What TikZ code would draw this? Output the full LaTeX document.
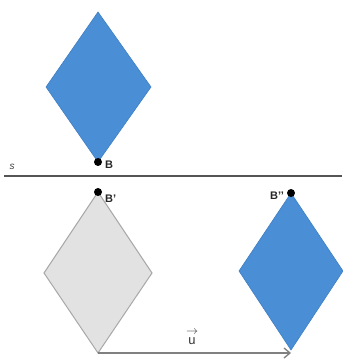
\documentclass[tikz,border=0pt]{standalone}
\usepackage{fontspec}
\setmainfont{Liberation Sans}
\usetikzlibrary{arrows.meta}
\definecolor{rhblue}{HTML}{4A8ED6}
\definecolor{rhblueedge}{HTML}{3F7FC4}
\definecolor{rhgray}{HTML}{E2E2E2}
\definecolor{rhgrayedge}{HTML}{A8A8A8}
\definecolor{axisgray}{HTML}{555555}
\begin{document}
\begin{tikzpicture}[x=1pt,y=-1pt,
  bluerh/.style={fill=rhblue,draw=rhblueedge,line width=0.6pt,line join=miter},
  grayrh/.style={fill=rhgray,draw=rhgrayedge,line width=1pt,line join=miter},
  ptdot/.style={circle,fill=black,inner sep=0pt,minimum size=8pt},
  ptlabel/.style={font=\fontsize{11}{12}\selectfont\bfseries,text=black!85,inner sep=1pt},
  vecline/.style={draw=black!50,line width=1.8pt,-{Straight Barb[length=6pt,width=10pt,line width=1.3pt]}}
]
\useasboundingbox (0,0) rectangle (342,363);
% top blue rhombus, bottom vertex B
\coordinate (Bt) at (98,12);
\coordinate (B) at (98,162);
\path[bluerh] (Bt) -- (46,87) -- (B) -- (151,87) -- cycle;
% line s
\coordinate (sL) at (4,176);
\coordinate (sR) at (342,176);
\draw[draw=axisgray,line width=1.6pt] (sL) -- (sR);
\node[font=\itshape\fontsize{10}{11}\selectfont,text=black!75] (slab) at (12,167) {s};
% gray rhombus (reflection), top vertex B'
\coordinate (Bp) at (98,192);
\coordinate (Gb) at (98,353);
\path[grayrh] (Bp) -- (44,273) -- (Gb) -- (152,273) -- cycle;
% blue rhombus (translation), top vertex B''
\coordinate (Bpp) at (291,193);
\coordinate (Rb) at (291,350);
\path[bluerh] (Bpp) -- (239,271) -- (Rb) -- (343,271) -- cycle;
% vector u
\draw[vecline] (Gb) -- (Rb |- Gb);
\node[font=\fontsize{13}{14}\selectfont,text=black!80,align=center,inner sep=0pt] (ulab) at (192,337) {$\rightarrow$\\[-4pt]u};
% points and labels
\node[ptdot] (dB) at (B) {};
\node[ptlabel,anchor=west] (lB) at (104,165) {B};
\node[ptdot] (dBp) at (Bp) {};
\node[ptlabel,anchor=west] (lBp) at (104,199) {B’};
\node[ptdot] (dBpp) at (Bpp) {};
\node[ptlabel,anchor=east] (lBpp) at (285,196) {B’’};
\end{tikzpicture}
\end{document}
